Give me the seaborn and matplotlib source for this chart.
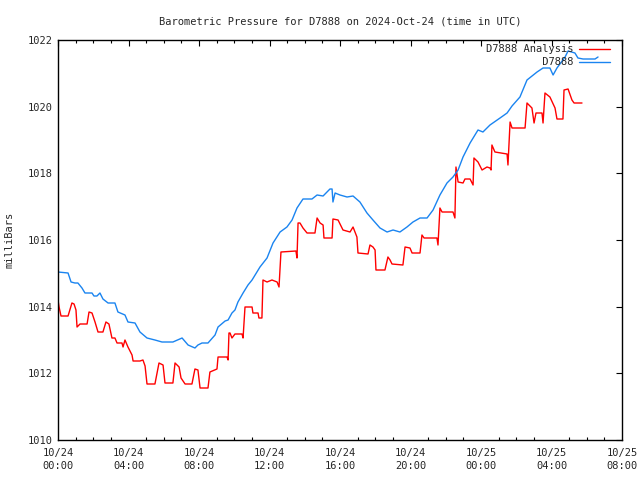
import pandas as pd
import matplotlib
matplotlib.use('Agg')
import matplotlib.pyplot as plt
import matplotlib.dates as mdates
import seaborn as sns

# hours after 2024-10-24 00:00 UTC, pressure in mb
obs_hours = [0, 0.57, 0.74, 0.96, 1.13, 1.36, 1.53, 1.93, 2.04, 2.21, 2.38, 2.55, 2.84, 3.23,
             3.40, 3.80, 3.97, 4.37, 4.65, 5.05, 5.50, 5.90, 6.52, 7.04, 7.38, 7.77, 7.94,
             8.17, 8.51, 8.91, 9.08, 9.48, 9.65, 9.87, 10.04, 10.21, 10.50, 10.78, 11.01,
             11.46, 11.86, 12.20, 12.60, 12.99, 13.28, 13.56, 13.90, 14.41, 14.70, 15.04,
             15.43, 15.55, 15.60, 15.72, 16.00, 16.40, 16.74, 17.13, 17.53, 17.87, 18.27,
             18.67, 19.01, 19.40, 19.80, 20.14, 20.54, 20.94, 21.28, 21.67, 22.07, 22.41,
             22.70, 22.98, 23.38, 23.83, 24.11, 24.51, 25.08, 25.48, 25.76, 26.21, 26.61,
             27.18, 27.52, 27.91, 28.09, 28.31, 28.77, 28.94, 29.33, 29.50, 29.79, 30.47, 30.64]
obs_mb = [1015.04, 1015.01, 1014.74, 1014.71, 1014.71, 1014.56, 1014.41, 1014.41, 1014.32,
          1014.32, 1014.41, 1014.23, 1014.11, 1014.11, 1013.84, 1013.75, 1013.54, 1013.51,
          1013.24, 1013.06, 1013.00, 1012.94, 1012.94, 1013.06, 1012.85, 1012.76, 1012.85,
          1012.91, 1012.91, 1013.15, 1013.39, 1013.57, 1013.60, 1013.81, 1013.90, 1014.14,
          1014.41, 1014.65, 1014.80, 1015.19, 1015.46, 1015.91, 1016.24, 1016.39, 1016.60,
          1016.96, 1017.23, 1017.23, 1017.35, 1017.32, 1017.53, 1017.53, 1017.14, 1017.41,
          1017.35, 1017.29, 1017.32, 1017.14, 1016.81, 1016.60, 1016.36, 1016.24, 1016.30,
          1016.24, 1016.39, 1016.54, 1016.66, 1016.66, 1016.90, 1017.35, 1017.71, 1017.89,
          1018.10, 1018.49, 1018.91, 1019.30, 1019.24, 1019.45, 1019.66, 1019.81, 1020.02,
          1020.29, 1020.80, 1021.04, 1021.16, 1021.16, 1020.95, 1021.16, 1021.49, 1021.67,
          1021.61, 1021.46, 1021.43, 1021.43, 1021.49]

ana_hours = [0, 0.06, 0.17, 0.57, 0.79, 0.91, 1.02, 1.08, 1.25, 1.65, 1.76, 1.93, 2.10, 2.27,
             2.55, 2.72, 2.89, 3.06, 3.23, 3.35, 3.63, 3.69, 3.80, 3.97, 4.20, 4.26, 4.65,
             4.82, 4.94, 5.05, 5.50, 5.73, 5.96, 6.07, 6.52, 6.64, 6.87, 6.98, 7.21, 7.60,
             7.77, 7.94, 8.06, 8.51, 8.62, 9.02, 9.08, 9.59, 9.65, 9.70, 9.76, 9.87, 10.04,
             10.44, 10.50, 10.61, 11.01, 11.06, 11.35, 11.40, 11.57, 11.63, 11.86, 12.14,
             12.43, 12.54, 12.65, 13.50, 13.56, 13.62, 13.73, 13.90, 14.13, 14.58, 14.70,
             14.87, 15.04, 15.09, 15.55, 15.60, 15.89, 16.17, 16.57, 16.74, 16.85, 16.96,
             17.02, 17.59, 17.70, 17.87, 17.99, 18.04, 18.55, 18.72, 18.84, 18.95, 19.57,
             19.69, 19.97, 20.09, 20.54, 20.65, 20.77, 21.50, 21.56, 21.67, 21.79, 22.41,
             22.52, 22.58, 22.70, 22.98, 23.09, 23.38, 23.55, 23.60, 23.83, 24.06, 24.34,
             24.51, 24.57, 24.62, 24.79, 25.48, 25.53, 25.65, 25.76, 26.50, 26.61, 26.89,
             27.01, 27.12, 27.46, 27.52, 27.63, 27.91, 28.20, 28.31, 28.65, 28.71, 28.94,
             29.16, 29.28, 29.73]
ana_mb = [1014.20, 1013.99, 1013.72, 1013.72, 1014.11, 1014.08, 1013.90, 1013.39, 1013.48,
          1013.48, 1013.84, 1013.81, 1013.54, 1013.24, 1013.24, 1013.54, 1013.48, 1013.06,
          1013.06, 1012.91, 1012.91, 1012.79, 1013.00, 1012.79, 1012.55, 1012.37, 1012.37,
          1012.40, 1012.22, 1011.68, 1011.68, 1012.31, 1012.25, 1011.71, 1011.71, 1012.31,
          1012.19, 1011.86, 1011.68, 1011.68, 1012.13, 1012.10, 1011.56, 1011.56, 1012.04,
          1012.13, 1012.49, 1012.49, 1012.40, 1013.21, 1013.21, 1013.06, 1013.18, 1013.18,
          1013.06, 1013.99, 1013.99, 1013.81, 1013.81, 1013.66, 1013.66, 1014.80, 1014.74,
          1014.80, 1014.74, 1014.59, 1015.64, 1015.67, 1015.46, 1016.51, 1016.51, 1016.36,
          1016.21, 1016.21, 1016.66, 1016.51, 1016.45, 1016.06, 1016.06, 1016.63, 1016.60,
          1016.30, 1016.24, 1016.39, 1016.24, 1016.09, 1015.61, 1015.58, 1015.85, 1015.79,
          1015.70, 1015.10, 1015.10, 1015.49, 1015.40, 1015.28, 1015.25, 1015.79, 1015.76,
          1015.61, 1015.61, 1016.15, 1016.06, 1016.06, 1015.85, 1016.96, 1016.84, 1016.84,
          1016.66, 1018.19, 1017.74, 1017.71, 1017.83, 1017.83, 1017.65, 1018.46, 1018.34,
          1018.10, 1018.19, 1018.16, 1018.10, 1018.85, 1018.64, 1018.58, 1018.25, 1019.54,
          1019.36, 1019.36, 1020.11, 1019.96, 1019.51, 1019.81, 1019.81, 1019.51, 1020.41,
          1020.29, 1019.96, 1019.63, 1019.63, 1020.50, 1020.53, 1020.20, 1020.11, 1020.11]

y_ticks = [1010, 1012, 1014, 1016, 1018, 1020, 1022]

base = pd.Timestamp('2024-10-24 00:00')
obs = pd.DataFrame({'time': base + pd.to_timedelta(obs_hours, unit='h'), 'mb': obs_mb})
ana = pd.DataFrame({'time': base + pd.to_timedelta(ana_hours, unit='h'), 'mb': ana_mb})

sns.set_theme(style='white')
plt.rcParams['font.family'] = ['DejaVu Sans Mono']
plt.rcParams['font.size'] = 7.5

fig = plt.figure(figsize=(6.4, 4.8), dpi=100)
ax = fig.add_axes([58 / 640, 40 / 480, 564 / 640, 400 / 480])

sns.lineplot(data=ana, x='time', y='mb', color='#ff0000', linewidth=1.0,
             estimator=None, sort=False, ax=ax, label='D7888 Analysis')
sns.lineplot(data=obs, x='time', y='mb', color='#1a84f0', linewidth=1.0,
             estimator=None, sort=False, ax=ax, label='         D7888')

ax.set_xlim(base, base + pd.Timedelta(hours=32))
ax.set_ylim(1010, 1022)
ax.set_yticks(y_ticks)
ax.xaxis.set_major_locator(mdates.HourLocator(byhour=range(0, 24, 4)))
ax.xaxis.set_minor_locator(mdates.HourLocator())
ax.xaxis.set_major_formatter(mdates.DateFormatter('%m/%d\n%H:%M'))

for s in ax.spines.values():
    s.set_color('black')
    s.set_linewidth(1.0)
ax.tick_params(which='major', direction='in', length=4.5, width=0.8, color='black',
               top=True, right=True, labelsize=7.5, pad=4)
ax.tick_params(axis='x', which='major', pad=6)
ax.tick_params(axis='x', which='minor', direction='in', length=2.2, width=0.8,
               color='black', top=True, bottom=True)
for lbl in ax.get_xticklabels():
    lbl.set_linespacing(1.35)

ax.set_xlabel('')
ax.set_ylabel('milliBars', fontsize=7.5, labelpad=9)
ax.set_title('Barometric Pressure for D7888 on 2024-Oct-24 (time in UTC)',
             fontsize=7.5, pad=11)

ax.legend(loc='upper right', bbox_to_anchor=(0.986, 1.0), frameon=False,
          markerfirst=False, fontsize=7.5, handlelength=3.0, handletextpad=0.5,
          labelspacing=0.3, borderaxespad=0.2, borderpad=0.2)

fig.savefig('out.png', dpi=100)
